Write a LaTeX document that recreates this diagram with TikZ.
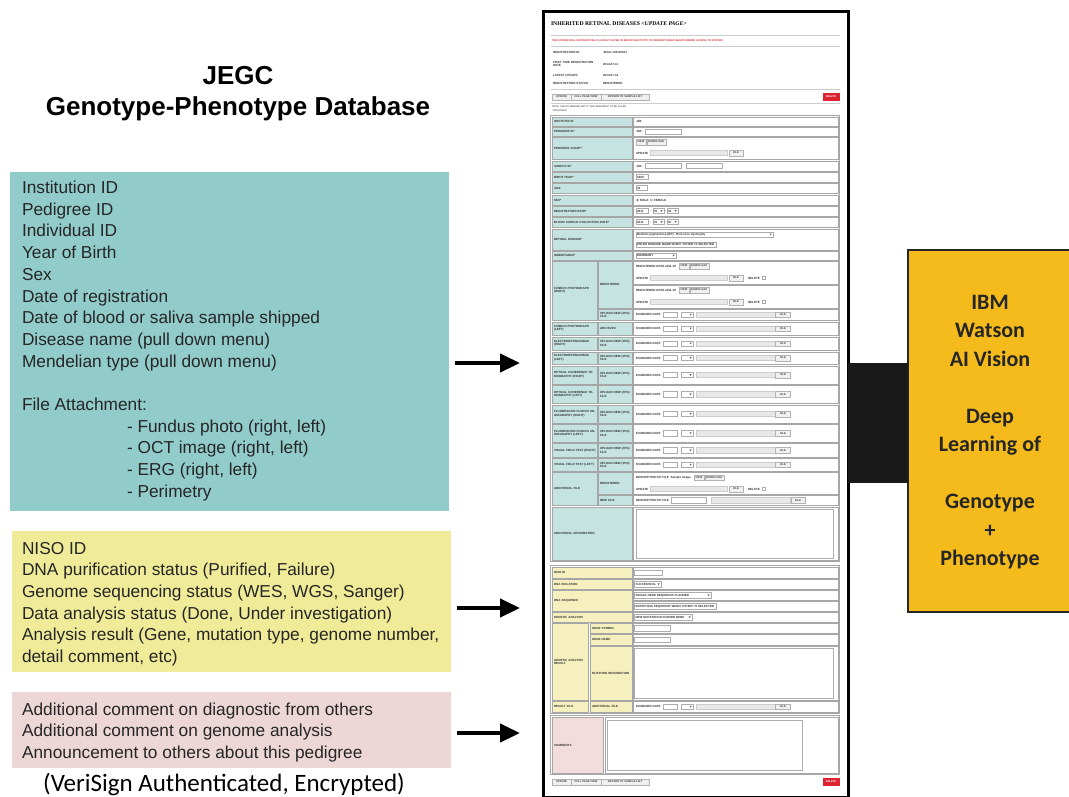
\documentclass[tikz,border=0pt]{standalone}
\usepackage{fontspec}
\setmainfont{Liberation Sans}
\newfontfamily\calibfont{Carlito}
\newfontfamily\formfont{Liberation Serif}
\usetikzlibrary{positioning, arrows.meta, calc}

\definecolor{tealbox}{HTML}{91CBCA}
\definecolor{yellowbox}{HTML}{EFEB98}
\definecolor{pinkbox}{HTML}{ECD6D6}
\definecolor{watsongold}{HTML}{F5BB1C}
\definecolor{formteal}{HTML}{C4E3E1}
\definecolor{formyellow}{HTML}{F5F0BE}
\definecolor{formpink}{HTML}{F3DCDC}
\definecolor{formred}{HTML}{DD2230}

\newcommand\selbox[4]{%
  \draw[inbox] (#1,#3-2.6) rectangle (#2,#3+2.6);
  \node (sel) [formtxt] at (#1+1,#3) {#4};
  \fill[black!60] (#2-3.5,#3-0.8) -- ++(2.2,0) -- ++(-1.1,1.6) -- cycle;
}
\newcommand\uploadline[1]{%
  \node (exd) [formtxt] at (636,#1) {EXAMINED DATE};
  \draw[inbox] (663,#1-2.6) rectangle (677,#1+2.6);
  \selbox{681}{693}{#1}{}
  \draw[fbar] (696,#1-2.6) rectangle (775,#1+2.6);
  \node (fb) [btn, minimum width=15pt] at (783,#1) {FILE};
}
\newcommand\fileline[1]{%
  \node (upd) [formtxt] at (636,#1) {UPDATE};
  \draw[fbar] (650,#1-2.6) rectangle (727,#1+2.6);
  \node (fb) [btn, minimum width=14pt] at (736,#1) {FILE};
}
\newcommand\delmark[1]{%
  \node (del) [formtxt] at (748,#1) {DELETE};
  \draw[inbox] (762,#1-1.5) rectangle (765,#1+1.5);
}
\newcommand\viewbtns[2]{%
  \node (vw) [btn, anchor=west] at (#1,#2) {VIEW};
  \node (dl) [btn, right=1pt of vw] {DOWNLOAD};
}

\tikzset{
  infobox/.style={anchor=north west, minimum width=439pt},
  infotext/.style={anchor=north west, align=left, text=black!85,
    font=\fontsize{17.3}{21.7}\selectfont},
  bigarrow/.style={-{Triangle[length=20pt, width=18pt]}, line width=4.5pt, shorten <=6pt},
  cell/.style={draw=gray!70, line width=0.8pt},
  formtxt/.style={anchor=west, align=left, text=black!80,
    font=\fontsize{3}{3.5}\selectfont\bfseries},
  inbox/.style={draw=gray!65, fill=white, line width=0.45pt},
  fbar/.style={draw=gray!40, fill=gray!18, line width=0.4pt},
  btn/.style={draw=gray!60, fill=gray!12, line width=0.4pt, text=black!75,
    inner xsep=1.4pt, minimum height=5.4pt, font=\fontsize{2.7}{3}\selectfont\bfseries},
  redbtn/.style={fill=formred, text=white, minimum width=17pt, minimum height=7.5pt,
    font=\fontsize{2.6}{3}\selectfont\bfseries},
}

\begin{document}
\begin{tikzpicture}[x=1pt, y=-1pt, every node/.style={inner sep=0, outer sep=0}]
      \useasboundingbox[fill=white] (0,0) rectangle (1069,796);

      \node (jegc)[anchor=base, font=\fontsize{26}{31}\selectfont\bfseries] at (238,84) {JEGC};
      \node (gpdb)[anchor=base, font=\fontsize{26}{31}\selectfont\bfseries] at (238,115) {Genotype-Phenotype Database};

      \node (pheno)[infobox, fill=tealbox, minimum height=339pt] at (10,172) {};
      \node (phenotxt)[infotext] at (22,181) {Institution ID\\Pedigree ID\\Individual ID\\Year of Birth\\Sex\\
        Date of registration\\Date of blood or saliva sample shipped\\Disease name (pull down menu)\\
        Mendelian type (pull down menu)\\[21.7pt]File Attachment:\\
        \hspace*{105pt}- Fundus photo (right, left)\\\hspace*{105pt}- OCT image (right, left)\\
        \hspace*{105pt}- ERG (right, left)\\\hspace*{105pt}- Perimetry};

      \node (geno)[infobox, fill=yellowbox, minimum height=141pt] at (12,531) {};
      \node (genotxt)[infotext] at (22,542) {NISO ID\\DNA purification status (Purified, Failure)\\
        Genome sequencing status (WES, WGS, Sanger)\\Data analysis status (Done, Under investigation)\\
        Analysis result (Gene, mutation type, genome number,\\detail comment, etc)};

      \node (note)[infobox, fill=pinkbox, minimum height=76pt] at (12,692) {};
      \node (notetxt)[infotext] at (22,702.5) {Additional comment on diagnostic from others\\
        Additional comment on genome analysis\\Announcement to others about this pedigree};

      \node (verisign)[anchor=base, font=\calibfont\fontsize{25}{30}\selectfont] at (224,791)
        {(VeriSign Authenticated, Encrypted)};

      \node (form)[draw, line width=3pt, fill=white, minimum width=305pt, minimum height=786pt] at (695.5,404) {};

      \coordinate (in1) at (520,363);
      \coordinate (in2) at (520,608);
      \coordinate (in3) at (520,733);
      \draw[bigarrow] (pheno.east |- in1) -- (in1);
      \draw[bigarrow] (geno.east |- in2) -- (in2);
      \draw[bigarrow] (note.east |- in3) -- (in3);

      \node (ibm)[draw=black!85, line width=1.5pt, fill=watsongold, minimum width=164pt,
        minimum height=362pt, anchor=north west] at (908,250) {};
      \node (ibmtxt)[anchor=north, align=center, text=black!85,
        font=\calibfont\bfseries\fontsize{22}{28.5}\selectfont] at (990,295)
        {IBM\\Watson\\AI Vision\\[28.5pt]Deep\\Learning of\\[28.5pt]Genotype\\+\\Phenotype};
      \coordinate (link) at (0,423);
      \draw[line width=120pt, black!90] (form.east |- link) -- (ibm.west |- link);

      \node (ftitle)[anchor=west, font=\formfont\bfseries\fontsize{5.7}{6}\selectfont] at (551,24)
        {INHERITED RETINAL DISEASES {\itshape <UPDATE PAGE>}};
      \draw[gray!40, line width=0.5pt] (551,35) -- (840,35);
      \node (warn)[formtxt, text=formred, font=\fontsize{2.6}{3}\selectfont\bfseries] at (552,41)
        {THE SYSTEM WILL AUTOMATICALLY LOGOUT AFTER 30 MIN OF INACTIVITY TO PREVENT FROM UNAUTHORIZED ACCESS TO SYSTEM};
      \draw[gray!40, line width=0.5pt] (551,46) -- (840,46);
      \foreach \y/\lab/\val in {52/REGISTRATION ID/JEGC-JJB-00101, 64/FIRST TIME REGISTRATION DATE/2014-07-11,
        75/LATEST UPDATE/2014-07-14, 83/REGISTRATION STATUS/REGISTERED}{
        \node (il\y)[formtxt, text width=44pt] at (553,\y) {\lab};
        \node (iv\y)[formtxt] at (603,\y) {\val};
      }
      \draw[gray!40, line width=0.5pt] (551,89) -- (840,89);
      \foreach \y/\nm in {97/top, 782/bot}{
        \node (upd\nm)[btn, anchor=west, minimum width=19pt] at (552,\y) {UPDATE};
        \node (full\nm)[btn, minimum width=30pt, right=0pt of upd\nm] {FULL PAGE VIEW};
        \node (ret\nm)[btn, minimum width=48pt, right=0pt of full\nm] {RETURN TO SAMPLE LIST};
        \node (del\nm)[redbtn] at (831,\y) {DELETE};
      }
      \draw[gray!40, line width=0.5pt] (551,103) -- (840,103);
      \node (req1)[formtxt, font=\fontsize{2.5}{3}\selectfont] at (552,106.5) {NOTE: FIELDS MARKED WITH * ARE REQUIRED TO BE FILLED};
      \node (req2)[formtxt, font=\fontsize{2.5}{3}\selectfont] at (552,111) {* REQUIRED};

      \draw[cell, line width=1.1pt] (550.5,115.5) rectangle (839.5,561.5);
      \foreach \ya/\yb/\lab in {117/126/INSTITUTE ID, 127/136/PEDIGREE ID*, 137/159/PEDIGREE CHART*,
        161/171/SAMPLE ID*, 172/182/BIRTH YEAR*, 183/193/AGE, 195/205/SEX*, 206/216/REGISTRATION DATE*,
        217/227/BLOOD SAMPLE COLLECTION DATE*, 229/250/RETINAL DISEASE*, 251/260/INHERITANCE*,
        507/560/ADDITIONAL INFORMATION}{
        \pgfmathsetmacro\yc{(\ya+\yb)/2}
        \draw[cell, fill=formteal] (552,\ya) rectangle (632,\yb);
        \draw[cell, fill=white] (633.5,\ya) rectangle (838,\yb);
        \node (t\ya)[formtxt, text width=76pt] at (554,\yc) {\lab};
      }
      \node (inst)[formtxt] at (636,121.5) {JJB};
      \node (ped)[formtxt] at (636,131.5) {JJB -};
      \draw[inbox] (645,129) rectangle (681,134);
      \viewbtns{636}{142}
      \fileline{153}
      \node (samp)[formtxt] at (636,166) {JJB -};
      \draw[inbox] (645,163.4) rectangle (681,168.6);
      \node (samp2)[formtxt] at (682.5,166) {-};
      \draw[inbox] (686,163.4) rectangle (722,168.6);
      \draw[inbox] (636,174.4) rectangle (648,179.6);
      \node (byear)[formtxt] at (637,177) {1980};
      \draw[inbox] (636,185.4) rectangle (647,190.6);
      \node (age)[formtxt] at (637,188) {34};
      \fill[black!60] (637.5,200) circle (1.1pt);
      \node (male)[formtxt] at (640,200) {MALE};
      \draw[black!50, line width=0.3pt] (651.5,200) circle (1.1pt);
      \node (female)[formtxt] at (654,200) {FEMALE};
      \foreach \y in {211,222}{
        \draw[inbox] (636,\y-2.6) rectangle (648,\y+2.6);
        \node (yr\y)[formtxt] at (637,\y) {2011};
        \node (da\y)[formtxt] at (650,\y) {-};
        \selbox{653}{664}{\y}{01}
        \node (db\y)[formtxt] at (665,\y) {-};
        \selbox{667}{678}{\y}{01}
      }
      \selbox{636}{773}{234.5}{Retinitis pigmentosa (RP) - Rod-cone dystrophy}
      \draw[inbox] (636,241.9) rectangle (716,247.1);
      \node (other)[formtxt] at (637,244.5) {ENTER DISEASE NAME WHEN 'OTHER' IS SELECTED};
      \selbox{636}{676}{255.5}{DOMINANT}

      \draw[cell, fill=formteal] (552,261) rectangle (597,320);
      \draw[cell, fill=formteal] (598.5,261) rectangle (632,308);
      \draw[cell, fill=formteal] (598.5,309.5) rectangle (632,320);
      \draw[cell, fill=white] (633.5,261) rectangle (838,284);
      \draw[cell, fill=white] (633.5,285.5) rectangle (838,308);
      \draw[cell, fill=white] (633.5,309.5) rectangle (838,320);
      \node (fr)[formtxt, text width=43pt] at (554,290.5) {FUNDUS PHOTOGRAPH (RIGHT)};
      \node (frr)[formtxt, text width=32pt] at (600,284.5) {REGISTERED};
      \node (fru)[formtxt, text width=32pt] at (600,314.75) {UPLOAD NEW (JPG) FILE};
      \foreach \y in {266,290}{
        \node (rd\y)[formtxt] at (636,\y) {REGISTERED DATE 2011-10};
        \viewbtns{679}{\y}
        \fileline{\y+12}
        \delmark{\y+12}
      }
      \uploadline{314.75}

      \foreach \ya/\yb/\laba/\labb in {322/335/FUNDUS PHOTOGRAPH (LEFT)/ARCHIVED,
        337/350/ELECTRORETINOGRAM (RIGHT)/UPLOAD NEW (JPG) FILE,
        352/364/ELECTRORETINOGRAM (LEFT)/UPLOAD NEW (JPG) FILE,
        366/384/OPTICAL COHERENCE TOMOGRAPHY (RIGHT)/UPLOAD NEW (JPG) FILE,
        385.5/403/OPTICAL COHERENCE TOMOGRAPHY (LEFT)/UPLOAD NEW (JPG) FILE,
        405/423/FLUORESCEIN FUNDUS ANGIOGRAPHY (RIGHT)/UPLOAD NEW (JPG) FILE,
        424.5/442/FLUORESCEIN FUNDUS ANGIOGRAPHY (LEFT)/UPLOAD NEW (JPG) FILE,
        443.5/457/VISUAL FIELD TEST (RIGHT)/UPLOAD NEW (JPG) FILE,
        458.5/471/VISUAL FIELD TEST (LEFT)/UPLOAD NEW (JPG) FILE}{
        \pgfmathsetmacro\yc{(\ya+\yb)/2}
        \draw[cell, fill=formteal] (552,\ya) rectangle (597,\yb);
        \draw[cell, fill=formteal] (598.5,\ya) rectangle (632,\yb);
        \draw[cell, fill=white] (633.5,\ya) rectangle (838,\yb);
        \node (s\ya)[formtxt, text width=43pt] at (554,\yc) {\laba};
        \node (u\ya)[formtxt, text width=32pt] at (600,\yc) {\labb};
        \uploadline{\yc}
      }

      \draw[cell, fill=formteal] (552,472.5) rectangle (597,505);
      \draw[cell, fill=formteal] (598.5,472.5) rectangle (632,494);
      \draw[cell, fill=formteal] (598.5,495.5) rectangle (632,505);
      \draw[cell, fill=white] (633.5,472.5) rectangle (838,494);
      \draw[cell, fill=white] (633.5,495.5) rectangle (838,505);
      \node (af)[formtxt, text width=43pt] at (554,488.75) {ADDITIONAL FILE};
      \node (afr)[formtxt, text width=32pt] at (600,483.25) {REGISTERED};
      \node (afn)[formtxt, text width=32pt] at (600,500.25) {NEW FILE};
      \node (afd)[formtxt] at (636,477.5) {DESCRIPTION OF FILE\ \ Sample Image};
      \viewbtns{694}{477.5}
      \fileline{489}
      \delmark{489}
      \node (afd2)[formtxt] at (636,500.25) {DESCRIPTION OF FILE};
      \draw[inbox] (671,497.6) rectangle (706,502.9);
      \draw[fbar] (711,497.6) rectangle (790,502.9);
      \node (afb)[btn, minimum width=14pt] at (798,500.25) {FILE};
      \draw[inbox] (636,509.5) rectangle (833,558);

      \draw[cell, line width=1.1pt] (550.5,565.5) rectangle (839.5,713.5);
      \foreach \ya/\yb/\lab in {567/578/NISO ID, 579.5/589/DNA ISOLATION, 590.5/611/DNA SEQUENCE,
        612.5/622/GENETIC ANALYSIS}{
        \pgfmathsetmacro\yc{(\ya+\yb)/2}
        \draw[cell, fill=formyellow] (552,\ya) rectangle (632,\yb);
        \node (g\ya)[formtxt, text width=76pt] at (554,\yc) {\lab};
      }
      \foreach \ya/\yb in {567/578, 579.5/589, 590.5/600, 601.5/611, 612.5/622, 623.5/633,
        634.5/645, 646.5/700, 701.5/712}{
        \draw[cell, fill=white] (633.5,\ya) rectangle (838,\yb);
      }
      \draw[cell, fill=formyellow] (552,623.5) rectangle (588.5,700);
      \draw[cell, fill=formyellow] (552,701.5) rectangle (588.5,712);
      \foreach \ya/\yb/\lab in {623.5/633/GENE SYMBOL, 634.5/645/GENE NAME, 646.5/700/MUTATION INFORMATION,
        701.5/712/ADDITIONAL FILE}{
        \pgfmathsetmacro\yc{(\ya+\yb)/2}
        \draw[cell, fill=formyellow] (590,\ya) rectangle (632,\yb);
        \node (h\ya)[formtxt, text width=38pt] at (592,\yc) {\lab};
      }
      \node (gar)[formtxt, text width=34pt] at (554,661.75) {GENETIC ANALYSIS RESULT};
      \node (rf)[formtxt, text width=34pt] at (554,706.75) {RESULT FILE};
      \draw[inbox] (634.5,569.9) rectangle (662,575.1);
      \selbox{634.5}{661}{584.25}{SUCCESSFUL}
      \selbox{634.5}{711}{595.25}{SINGLE GENE SEQUENCE PLANNED}
      \draw[inbox] (634.5,603.65) rectangle (716,608.85);
      \node (dseq)[formtxt] at (635.5,606.25) {ENTER DNA SEQUENCE WHEN 'OTHER' IS SELECTED};
      \selbox{634.5}{692}{617.25}{NEW MUTATION IN KNOWN GENE}
      \draw[inbox] (634.5,625.65) rectangle (670,630.85);
      \draw[inbox] (634.5,637.15) rectangle (670,642.35);
      \draw[inbox] (634.5,648.5) rectangle (833,698.5);
      \uploadline{706.75}

      \draw[cell, line width=1.1pt] (550.5,715.5) rectangle (839.5,774.5);
      \draw[cell, fill=formpink] (552,717) rectangle (603,773);
      \draw[cell, fill=white] (605,717) rectangle (838,773);
      \node (cmt)[formtxt] at (554,745) {COMMENTS};
      \draw[inbox] (607,720) rectangle (802,770);
    \end{tikzpicture}
\end{document}
